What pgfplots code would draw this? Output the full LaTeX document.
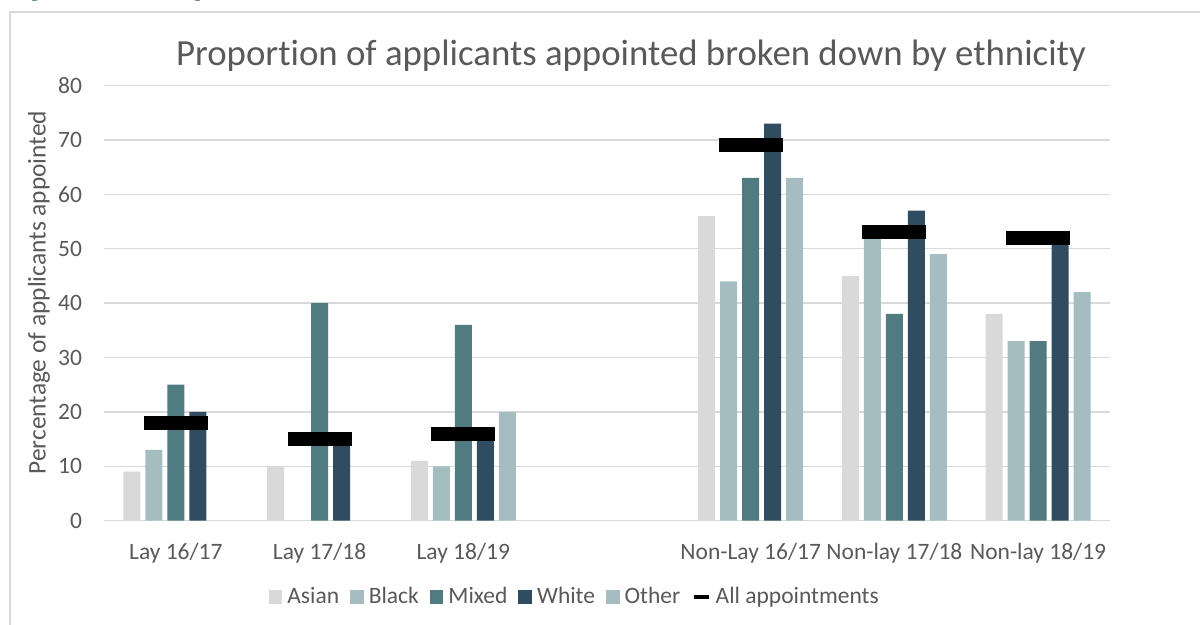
\documentclass[border=0pt]{standalone}
\usepackage{pgfplots}
\pgfplotsset{compat=1.18}
\usepackage{fontspec}
\setmainfont{Carlito}[Ligatures={NoCommon}]
\definecolor{cAsian}{HTML}{D9D9D9}
\definecolor{cBlack}{HTML}{A5BCC1}
\definecolor{cMixed}{HTML}{507B80}
\definecolor{cWhite}{HTML}{304C60}
\definecolor{cOther}{HTML}{A5BCC1}
\definecolor{txt}{HTML}{595959}
\definecolor{gridc}{HTML}{D9D9D9}
\definecolor{head}{HTML}{124E5C}
\begin{document}
\begin{tikzpicture}
\useasboundingbox (0,0) rectangle (600pt,312.5pt);
\begin{scope}
\clip (0,309pt) rectangle (300pt,312.5pt);
\node[head, font=\bfseries\fontsize{21}{24}\selectfont, anchor=base west, inner sep=0pt] at (2.8pt,315.4pt) {by ethnicity};
\end{scope}
\draw[gridc, line width=0.75pt] (5pt,0) -- (5pt,306.5pt) -- (600pt,306.5pt);
\node[txt, font=\fontsize{18.4}{21}\selectfont, inner sep=0pt] at (315.5pt,284.5pt) {Proportion of applicants appointed broken down by ethnicity};
\begin{axis}[
  at={(52pt,52.15pt)}, anchor=south west,
  scale only axis, width=503pt, height=217.6pt,
  xmin=-0.5, xmax=6.5, ymin=0, ymax=80,
  ytick={0,10,...,80},
  xtick={0,1,2,4,5,6},
  xticklabels={Lay 16/17, Lay 17/18, Lay 18/19, Non-Lay 16/17, Non-lay 17/18, Non-lay 18/19},
  axis x line*=bottom, axis y line*=left,
  x axis line style={gridc, line width=0.75pt, -},
  y axis line style={draw=none},
  ymajorgrids, grid style={gridc, line width=0.75pt},
  major tick length=0pt,
  /pgf/number format/assume math mode=true,
  tick label style={txt, font=\fontsize{11.75}{14}\selectfont},
  yticklabel style={xshift=-7.5pt},
  xticklabel style={yshift=-7.5pt},
  ylabel={Percentage of applicants appointed},
  ylabel style={txt, font=\fontsize{12.7}{15}\selectfont, at={(axis description cs:-0.0646,0.524)}, anchor=center},
  legend columns=-1,
  legend style={at={(0.467,-0.1753)}, anchor=center, draw=none, fill=none,
    font=\fontsize{11.75}{14}\selectfont, text=txt,
    nodes={inner sep=0pt}, column sep=2.5pt,
    /tikz/every even column/.append style={column sep=5.5pt}},
  every axis plot/.append style={draw=none},
]
\pgfplotsset{sq/.style={ybar, bar width=8.5pt, fill=#1, draw=none,
  legend image code/.code={\fill[#1] (0pt,-3.4pt) rectangle (6.8pt,3.4pt);}}}
\addplot[sq=cAsian, bar shift=-22pt] coordinates {(0,9) (1,10) (2,11) (4,56) (5,45) (6,38)};
\addlegendentry{Asian}
\addplot[sq=cBlack, bar shift=-11pt] coordinates {(0,13) (2,10) (4,44) (5,52) (6,33)};
\addlegendentry{Black}
\addplot[sq=cMixed, bar shift=0pt] coordinates {(0,25) (1,40) (2,36) (4,63) (5,38) (6,33)};
\addlegendentry{Mixed}
\addplot[sq=cWhite, bar shift=11pt] coordinates {(0,20) (1,15) (2,16) (4,73) (5,57) (6,51)};
\addlegendentry{White}
\addplot[sq=cOther, bar shift=22pt] coordinates {(2,20) (4,63) (5,49) (6,42)};
\addlegendentry{Other}
\addplot[only marks, mark=-, mark size=16pt, mark options={draw=black, line width=7pt},
  legend image code/.code={\draw[black, line width=2.2pt] (0pt,0pt) -- (7.5pt,0pt);}]
  coordinates {(0,18) (1,15) (2,16) (4,69) (5,53) (6,52)};
\addlegendentry{All appointments}
\end{axis}
\end{tikzpicture}
\end{document}
